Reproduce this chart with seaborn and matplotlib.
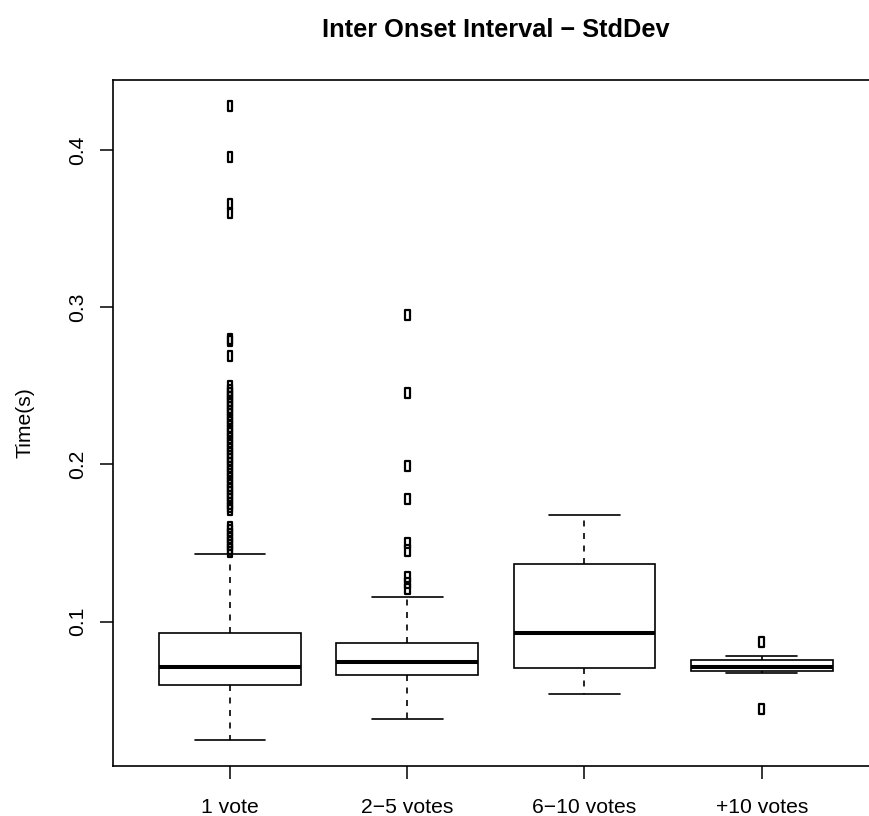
import matplotlib
matplotlib.use("Agg")
import matplotlib.pyplot as plt
from matplotlib.path import Path
import pandas as pd
import seaborn as sns

# Vote groups on the x axis
categories = ["1 vote", "2\u22125 votes", "6\u221210 votes", "+10 votes"]

# Five-number summary of the inter-onset-interval standard deviation (s)
lower_whisker = [0.0245, 0.0381, 0.0542, 0.0674]
lower_quartile = [0.0597, 0.0659, 0.0706, 0.0686]
medians = [0.0710, 0.0744, 0.0930, 0.0710]
upper_quartile = [0.0928, 0.0865, 0.1369, 0.0756]
upper_whisker = [0.1429, 0.1159, 0.1679, 0.0780]

# Outlying values per group
outliers_1_vote = [
    0.4280, 0.3957, 0.3655, 0.3597, 0.2800, 0.2785, 0.2688,
    0.2495, 0.2470, 0.2452, 0.2431, 0.2405, 0.2388, 0.2362, 0.2340,
    0.2318, 0.2290, 0.2268, 0.2241, 0.2215, 0.2196, 0.2170, 0.2142,
    0.2120, 0.2098, 0.2075, 0.2050, 0.2031, 0.2006, 0.1985, 0.1960,
    0.1938, 0.1912, 0.1890, 0.1866, 0.1845, 0.1821, 0.1800, 0.1778,
    0.1752, 0.1731, 0.1710, 0.1602, 0.1580, 0.1555, 0.1530, 0.1508,
    0.1487, 0.1463, 0.1443,
]
outliers_2_5_votes = [0.2951, 0.2453, 0.1990, 0.1780, 0.1499, 0.1452,
                      0.1284, 0.1246, 0.1208]
outliers_6_10_votes = []
outliers_over_10_votes = [0.0871, 0.0443]

# Long-form tables for seaborn
box_rows = []
for i, cat in enumerate(categories):
    for v in (lower_whisker[i], lower_quartile[i], medians[i],
              upper_quartile[i], upper_whisker[i]):
        box_rows.append({"group": cat, "value": v})
box_df = pd.DataFrame(box_rows)

outlier_lists = [outliers_1_vote, outliers_2_5_votes,
                 outliers_6_10_votes, outliers_over_10_votes]
out_rows = [{"group": cat, "value": v}
            for cat, vals in zip(categories, outlier_lists) for v in vals]
out_df = pd.DataFrame(out_rows)

sns.set_style("ticks")
plt.rcParams["font.family"] = ["Liberation Sans", "DejaVu Sans"]
plt.rcParams["text.color"] = "black"
plt.rcParams["axes.labelcolor"] = "black"

W, H = 869, 816
fig = plt.figure(figsize=(W / 100, H / 100), dpi=100)
fig.patch.set_facecolor("white")
ax = fig.add_axes([113 / W, (H - 765.7) / H, 765.7 / W, 685.7 / H])

sns.boxplot(
    data=box_df, x="group", y="value", order=categories, ax=ax,
    width=0.8, whis=(0, 100), showfliers=False,
    color="white", linecolor="black", linewidth=1.2,
    medianprops={"linewidth": 2.9},
    whiskerprops={"linestyle": (0, (3.6, 3.9))},
)

# Open tall rectangles for outlying values
rect = Path([(-0.456, -1), (0.456, -1), (0.456, 1), (-0.456, 1), (-0.456, -1)],
            closed=True)
sns.stripplot(
    data=out_df, x="group", y="value", order=categories, ax=ax,
    jitter=False, marker=rect, size=7.4, color="black",
    facecolor="none", edgecolor="black", linewidth=1.6, zorder=4,
)

ax.set_xlim(-0.66, 3.66)
ax.set_ylim(0.0084, 0.4445)
ax.set_yticks([0.1, 0.2, 0.3, 0.4])
ax.set_yticklabels(["0.1", "0.2", "0.3", "0.4"])
ax.set_xticks(range(len(categories)))
ax.set_xticklabels(categories)

ax.tick_params(axis="both", length=9.4, width=1.1, color="black",
               labelsize=15.25, labelcolor="black")
ax.tick_params(axis="y", pad=9.2)
ax.tick_params(axis="x", pad=13.7)
for lab in ax.get_yticklabels():
    lab.set_rotation(90)
    lab.set_va("center")

for sp in ax.spines.values():
    sp.set_visible(True)
    sp.set_color("black")
    sp.set_linewidth(1.2)

ax.set_xlabel("")
ax.set_ylabel("Time(s)", fontsize=15.25, color="black")
ax.yaxis.set_label_coords(-0.102, 0.5)
ax.set_title("Inter Onset Interval \u2212 StdDev", fontsize=18.3,
             fontweight="bold", color="black", pad=31)

fig.savefig("out.png", dpi=100)
